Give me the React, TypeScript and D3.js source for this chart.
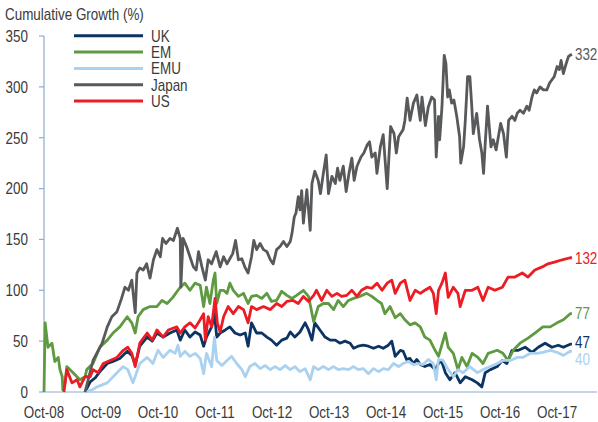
import React from "react";
import * as d3 from "d3";

// [decimal year, cumulative growth %]
const UK: [number, number][] = [[2009.47,0],[2009.56,10],[2009.65,14],[2009.73,20],[2009.86,28],[2009.96,30],[2010.08,33],[2010.21,40],[2010.29,36],[2010.35,27],[2010.43,45],[2010.56,54],[2010.65,50],[2010.73,58],[2010.84,54],[2010.96,58],[2011.08,61],[2011.14,51],[2011.22,61],[2011.31,54],[2011.40,59],[2011.49,56],[2011.55,45],[2011.60,54],[2011.69,64],[2011.74,77],[2011.78,54],[2011.84,58],[2011.93,61],[2012.01,64],[2012.10,58],[2012.19,56],[2012.28,58],[2012.33,45],[2012.39,68],[2012.48,58],[2012.57,58],[2012.66,54],[2012.74,51],[2012.83,46],[2012.92,51],[2013.01,53],[2013.07,59],[2013.15,54],[2013.24,59],[2013.33,68],[2013.39,61],[2013.45,51],[2013.50,68],[2013.59,61],[2013.68,54],[2013.77,51],[2013.86,51],[2013.94,48],[2014.03,50],[2014.12,48],[2014.18,43],[2014.26,45],[2014.35,46],[2014.44,45],[2014.53,43],[2014.62,45],[2014.70,43],[2014.79,46],[2014.85,50],[2014.91,35],[2015.00,41],[2015.05,40],[2015.11,32],[2015.17,33],[2015.23,28],[2015.29,32],[2015.35,27],[2015.43,25],[2015.52,27],[2015.61,22],[2015.67,28],[2015.72,31],[2015.79,19],[2015.87,12],[2015.96,19],[2016.05,9],[2016.14,15],[2016.26,12],[2016.35,9],[2016.43,5],[2016.49,19],[2016.58,22],[2016.70,25],[2016.79,31],[2016.87,28],[2016.96,41],[2017.07,41],[2017.19,44],[2017.31,39],[2017.42,44],[2017.54,48],[2017.66,44],[2017.77,46],[2017.86,44],[2017.98,47],[2018.01,47]];

const EM: [number, number][] = [[2008.75,0],[2008.77,68],[2008.82,44],[2008.89,48],[2008.94,30],[2009.00,34],[2009.03,22],[2009.07,15],[2009.08,2],[2009.12,9],[2009.15,25],[2009.26,19],[2009.38,12],[2009.47,15],[2009.50,22],[2009.61,28],[2009.73,44],[2009.86,51],[2009.96,58],[2010.08,64],[2010.21,74],[2010.29,68],[2010.35,58],[2010.40,74],[2010.49,81],[2010.61,84],[2010.73,84],[2010.82,90],[2010.91,87],[2011.01,93],[2011.10,100],[2011.14,103],[2011.22,107],[2011.31,100],[2011.40,107],[2011.49,105],[2011.55,84],[2011.60,103],[2011.66,87],[2011.72,110],[2011.75,117],[2011.78,87],[2011.84,100],[2011.90,100],[2011.96,97],[2012.01,107],[2012.07,100],[2012.16,94],[2012.25,97],[2012.33,87],[2012.39,94],[2012.48,95],[2012.57,92],[2012.66,97],[2012.74,89],[2012.83,90],[2012.92,99],[2013.01,95],[2013.10,92],[2013.18,95],[2013.30,100],[2013.39,94],[2013.48,69],[2013.56,84],[2013.65,87],[2013.74,87],[2013.83,81],[2013.91,90],[2014.00,84],[2014.09,90],[2014.18,92],[2014.29,94],[2014.41,97],[2014.50,94],[2014.59,90],[2014.67,87],[2014.73,77],[2014.82,84],[2014.91,73],[2015.00,77],[2015.08,71],[2015.17,66],[2015.26,68],[2015.35,64],[2015.43,54],[2015.52,51],[2015.61,41],[2015.67,35],[2015.79,58],[2015.84,44],[2015.93,38],[2016.01,22],[2016.08,34],[2016.17,25],[2016.26,38],[2016.36,34],[2016.45,28],[2016.54,38],[2016.70,41],[2016.80,38],[2016.89,31],[2016.98,41],[2017.10,48],[2017.24,53],[2017.36,58],[2017.50,64],[2017.63,64],[2017.75,68],[2017.86,71],[2017.98,77],[2018.01,77]];

const EMU: [number, number][] = [[2009.47,0],[2009.59,2],[2009.68,5],[2009.86,9],[2010.03,19],[2010.14,25],[2010.22,22],[2010.31,9],[2010.43,28],[2010.56,34],[2010.66,28],[2010.75,41],[2010.84,34],[2010.96,41],[2011.05,38],[2011.10,46],[2011.14,35],[2011.22,40],[2011.31,35],[2011.40,38],[2011.49,33],[2011.55,18],[2011.60,38],[2011.69,25],[2011.74,54],[2011.78,31],[2011.87,26],[2011.96,31],[2012.04,35],[2012.13,28],[2012.22,22],[2012.28,15],[2012.36,25],[2012.45,28],[2012.54,23],[2012.63,26],[2012.72,22],[2012.80,25],[2012.89,22],[2012.98,26],[2013.07,22],[2013.15,25],[2013.24,20],[2013.33,23],[2013.42,12],[2013.48,25],[2013.56,22],[2013.65,25],[2013.74,22],[2013.83,25],[2013.91,22],[2014.00,23],[2014.09,22],[2014.18,25],[2014.26,22],[2014.35,23],[2014.44,18],[2014.53,23],[2014.62,20],[2014.70,23],[2014.79,22],[2014.88,28],[2014.97,25],[2015.05,28],[2015.14,30],[2015.23,27],[2015.32,28],[2015.40,27],[2015.49,32],[2015.58,28],[2015.63,12],[2015.67,32],[2015.75,31],[2015.84,22],[2015.93,15],[2016.01,22],[2016.10,19],[2016.22,25],[2016.35,19],[2016.45,22],[2016.58,25],[2016.70,28],[2016.80,31],[2016.93,31],[2017.05,34],[2017.15,34],[2017.28,38],[2017.40,38],[2017.50,39],[2017.63,41],[2017.75,39],[2017.86,36],[2017.98,40],[2018.01,40]];

const JAPAN: [number, number][] = [[2009.47,0],[2009.61,31],[2009.77,48],[2009.86,64],[2009.94,74],[2010.03,79],[2010.11,92],[2010.17,103],[2010.23,100],[2010.29,110],[2010.35,78],[2010.38,117],[2010.43,122],[2010.49,120],[2010.55,126],[2010.61,112],[2010.67,130],[2010.73,140],[2010.79,133],[2010.83,151],[2010.89,146],[2010.96,151],[2011.02,149],[2011.09,161],[2011.14,151],[2011.15,103],[2011.19,151],[2011.25,143],[2011.31,133],[2011.37,123],[2011.42,120],[2011.46,138],[2011.52,123],[2011.58,110],[2011.63,130],[2011.69,126],[2011.77,138],[2011.84,123],[2011.90,133],[2011.96,126],[2012.01,131],[2012.06,136],[2012.11,149],[2012.16,130],[2012.22,131],[2012.28,122],[2012.33,117],[2012.39,133],[2012.43,149],[2012.48,140],[2012.54,146],[2012.60,140],[2012.66,138],[2012.72,130],[2012.77,126],[2012.83,140],[2012.89,143],[2012.95,148],[2013.01,143],[2013.07,148],[2013.10,156],[2013.14,172],[2013.17,176],[2013.21,192],[2013.24,179],[2013.27,198],[2013.30,166],[2013.36,199],[2013.42,159],[2013.45,205],[2013.50,217],[2013.56,208],[2013.60,195],[2013.65,215],[2013.70,233],[2013.74,195],[2013.80,212],[2013.86,205],[2013.90,220],[2013.94,208],[2014.00,222],[2014.05,197],[2014.10,215],[2014.15,230],[2014.19,208],[2014.24,222],[2014.31,231],[2014.36,235],[2014.42,243],[2014.46,246],[2014.50,231],[2014.56,235],[2014.59,215],[2014.65,241],[2014.70,253],[2014.77,200],[2014.83,261],[2014.89,254],[2014.93,235],[2014.97,251],[2015.05,258],[2015.08,267],[2015.12,289],[2015.17,267],[2015.23,284],[2015.29,292],[2015.35,267],[2015.38,290],[2015.44,262],[2015.49,280],[2015.55,290],[2015.60,287],[2015.63,231],[2015.67,271],[2015.69,248],[2015.73,280],[2015.77,331],[2015.80,323],[2015.83,290],[2015.86,297],[2015.90,284],[2015.94,287],[2015.99,271],[2016.04,251],[2016.06,225],[2016.11,241],[2016.14,267],[2016.18,310],[2016.22,310],[2016.25,284],[2016.28,254],[2016.31,264],[2016.34,274],[2016.39,248],[2016.43,235],[2016.46,215],[2016.49,245],[2016.53,281],[2016.56,261],[2016.59,241],[2016.63,248],[2016.68,238],[2016.72,251],[2016.76,264],[2016.81,254],[2016.86,231],[2016.90,267],[2016.96,271],[2017.01,267],[2017.05,274],[2017.10,277],[2017.16,274],[2017.22,281],[2017.26,277],[2017.31,290],[2017.35,297],[2017.39,294],[2017.45,300],[2017.51,297],[2017.57,297],[2017.62,304],[2017.66,307],[2017.70,310],[2017.75,320],[2017.79,317],[2017.82,326],[2017.86,313],[2017.91,323],[2017.95,330],[2017.98,331],[2018.01,332]];

const US: [number, number][] = [[2009.10,0],[2009.15,22],[2009.24,9],[2009.33,12],[2009.38,5],[2009.47,15],[2009.56,15],[2009.61,22],[2009.70,19],[2009.79,28],[2009.91,31],[2010.03,34],[2010.14,41],[2010.22,44],[2010.29,38],[2010.35,25],[2010.43,48],[2010.56,58],[2010.65,51],[2010.73,61],[2010.84,54],[2010.93,61],[2011.08,64],[2011.14,58],[2011.22,64],[2011.31,68],[2011.40,63],[2011.49,71],[2011.55,77],[2011.58,51],[2011.63,74],[2011.69,64],[2011.75,92],[2011.79,68],[2011.84,59],[2011.90,74],[2011.98,84],[2012.07,77],[2012.16,84],[2012.25,81],[2012.33,68],[2012.39,84],[2012.48,81],[2012.60,84],[2012.72,81],[2012.83,87],[2012.92,84],[2013.01,89],[2013.12,90],[2013.21,87],[2013.30,94],[2013.39,89],[2013.48,95],[2013.53,100],[2013.62,90],[2013.71,100],[2013.80,94],[2013.89,97],[2013.97,94],[2014.06,95],[2014.15,100],[2014.24,94],[2014.32,100],[2014.41,103],[2014.50,102],[2014.59,107],[2014.68,100],[2014.77,107],[2014.85,110],[2014.91,97],[2015.00,107],[2015.08,110],[2015.17,90],[2015.26,100],[2015.35,97],[2015.43,100],[2015.52,103],[2015.58,97],[2015.63,77],[2015.67,100],[2015.73,107],[2015.79,117],[2015.84,93],[2015.93,103],[2016.01,97],[2016.05,84],[2016.14,100],[2016.26,100],[2016.36,103],[2016.45,90],[2016.54,103],[2016.66,100],[2016.79,103],[2016.89,113],[2017.01,113],[2017.14,117],[2017.24,113],[2017.36,120],[2017.49,123],[2017.59,126],[2017.72,128],[2017.84,130],[2017.98,132],[2018.01,132]];

const SERIES_NAMES = ["UK", "EM", "EMU", "Japan", "US"];
const SERIES_DATA = [UK, EM, EMU, JAPAN, US];
const SERIES_COLORS = ["#0c3463", "#5e9a3f", "#aad2f0", "#58595b", "#ec1c24"];
const END_LABELS = ["47", "77", "40", "332", "132"];

const X_TICK_LABELS = ["Oct-08", "Oct-09", "Oct-10", "Oct-11", "Oct-12", "Oct-13", "Oct-14", "Oct-15", "Oct-16", "Oct-17"];
const X_TICK_START = 2008.75;
const Y_TICKS = [0, 50, 100, 150, 200, 250, 300, 350];

const W = 598;
const H = 422;
const FONT = "'Liberation Sans', Arial, sans-serif";
const AXIS = "#8eaad6";
const TEXT = "#3a3a3a";
const SX = 0.84;
const LABEL_GAP = 17;

function T(props: { x: number; y: number; anchor?: string; fill?: string; children: React.ReactNode }) {
  return (
    <text
      transform={`translate(${props.x},${props.y}) scale(${SX},1)`}
      textAnchor={props.anchor || "start"}
      fontSize={16}
      fill={props.fill || TEXT}
    >
      {props.children}
    </text>
  );
}

export default function App() {
  const x = d3.scaleLinear().domain([2008.75, 2018.45]).range([44, 597]);
  const y = d3.scaleLinear().domain([0, 350]).range([392, 36]);
  const line = d3
    .line<[number, number]>()
    .x((d) => x(d[0]))
    .y((d) => y(d[1]));

  // end labels: sorted top to bottom, spread apart to avoid overlap
  const ends = SERIES_DATA.map((data, i) => {
    const last = data[data.length - 1];
    return { i, lx: x(last[0]) + 3, ly: y(last[1]) };
  }).sort((a, b) => a.ly - b.ly);
  for (let k = 1; k < ends.length; k++) {
    const gap = ends[k].ly - ends[k - 1].ly;
    if (gap < LABEL_GAP) {
      const shift = (LABEL_GAP - gap) / 2;
      ends[k - 1].ly -= shift * 0.4;
      ends[k].ly = ends[k - 1].ly + LABEL_GAP;
    }
  }

  return (
    <svg
      width={W}
      height={H}
      style={{ position: "absolute", left: 0, top: 0, background: "#fff" }}
      fontFamily={FONT}
    >
      <T x={5} y={19.5}>Cumulative Growth (%)</T>

      {/* y axis */}
      <line x1={44} x2={44} y1={y(350)} y2={y(0)} stroke={AXIS} strokeWidth={1.2} />
      {Y_TICKS.map((t) => (
        <g key={t}>
          <line x1={39} x2={44} y1={y(t)} y2={y(t)} stroke={AXIS} strokeWidth={1.2} />
          <T x={28} y={y(t) + 5.8} anchor="end">{t}</T>
        </g>
      ))}

      {/* x axis */}
      <line x1={44} x2={597} y1={y(0)} y2={y(0)} stroke={AXIS} strokeWidth={1.2} />
      {X_TICK_LABELS.map((lab, i) => (
        <T key={lab} x={x(X_TICK_START + i)} y={418} anchor="middle">{lab}</T>
      ))}

      {/* series */}
      {SERIES_DATA.map((data, i) => (
        <path
          key={SERIES_NAMES[i]}
          d={line(data) || ""}
          fill="none"
          stroke={SERIES_COLORS[i]}
          strokeWidth={2.8}
          strokeLinejoin="round"
        />
      ))}

      {/* end labels */}
      {ends.map((e) => (
        <T key={"end" + e.i} x={e.lx} y={e.ly + 5.8} fill={SERIES_COLORS[e.i]}>
          {END_LABELS[e.i]}
        </T>
      ))}

      {/* legend */}
      {SERIES_NAMES.map((name, i) => {
        const ly = 35.7 + i * 16.35;
        return (
          <g key={"leg" + name}>
            <line x1={74} x2={143} y1={ly} y2={ly} stroke={SERIES_COLORS[i]} strokeWidth={3} />
            <T x={151} y={ly + 5.8}>{name}</T>
          </g>
        );
      })}
    </svg>
  );
}
